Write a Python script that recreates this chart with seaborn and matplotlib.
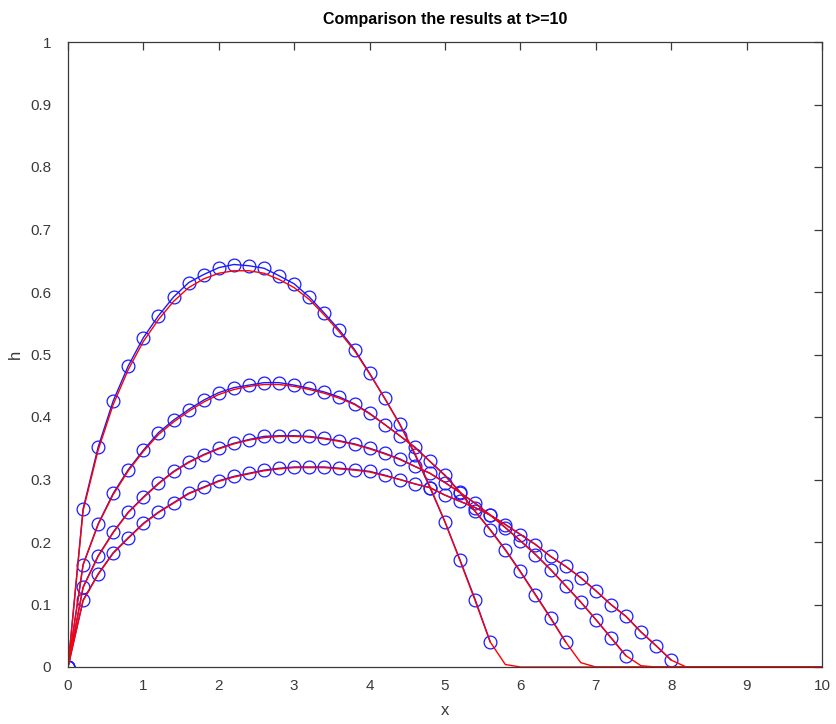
import numpy as np
import pandas as pd
import matplotlib
matplotlib.use("Agg")
import matplotlib.pyplot as plt
import seaborn as sns

# ---- data ----
x_grid_step = 0.2

num1 = [0, 0.253, 0.352, 0.426, 0.482, 0.527, 0.562, 0.592, 0.615, 0.628, 0.639,
        0.644, 0.642, 0.638, 0.626, 0.613, 0.592, 0.566, 0.539, 0.508, 0.470,
        0.430, 0.389, 0.340, 0.287, 0.232, 0.171, 0.108, 0.040]
num2 = [0, 0.164, 0.229, 0.278, 0.316, 0.347, 0.375, 0.395, 0.412, 0.427, 0.439,
        0.447, 0.451, 0.455, 0.455, 0.451, 0.446, 0.440, 0.432, 0.421, 0.406,
        0.388, 0.370, 0.352, 0.329, 0.307, 0.280, 0.249, 0.220, 0.188, 0.153,
        0.116, 0.079, 0.040]
num3 = [0, 0.128, 0.178, 0.216, 0.248, 0.272, 0.294, 0.313, 0.328, 0.340, 0.350,
        0.358, 0.364, 0.369, 0.370, 0.370, 0.369, 0.366, 0.362, 0.357, 0.350,
        0.342, 0.333, 0.321, 0.310, 0.295, 0.279, 0.262, 0.243, 0.223, 0.202,
        0.180, 0.156, 0.130, 0.104, 0.076, 0.047, 0.018]
num4 = [0, 0.107, 0.149, 0.183, 0.207, 0.230, 0.248, 0.263, 0.278, 0.288, 0.298,
        0.305, 0.310, 0.315, 0.318, 0.320, 0.320, 0.320, 0.318, 0.316, 0.313,
        0.307, 0.300, 0.293, 0.287, 0.275, 0.265, 0.255, 0.243, 0.228, 0.212,
        0.196, 0.177, 0.161, 0.143, 0.122, 0.100, 0.081, 0.056, 0.034, 0.011]

exact1 = [0, 0.250, 0.347, 0.420, 0.476, 0.521, 0.556, 0.585, 0.607, 0.621, 0.630,
          0.634, 0.634, 0.630, 0.620, 0.607, 0.588, 0.563, 0.536, 0.506, 0.469,
          0.430, 0.388, 0.342, 0.289, 0.232, 0.170, 0.106, 0.040, 0.004]
exact2 = [0, 0.163, 0.228, 0.276, 0.314, 0.345, 0.372, 0.392, 0.409, 0.424, 0.436,
          0.444, 0.449, 0.452, 0.452, 0.449, 0.444, 0.438, 0.430, 0.420, 0.405,
          0.388, 0.370, 0.351, 0.329, 0.306, 0.279, 0.249, 0.219, 0.187, 0.152,
          0.115, 0.078, 0.040, 0.007]
exact3 = [0, 0.127, 0.177, 0.215, 0.247, 0.271, 0.293, 0.312, 0.327, 0.339, 0.349,
          0.357, 0.363, 0.367, 0.369, 0.369, 0.368, 0.365, 0.361, 0.356, 0.349,
          0.341, 0.332, 0.321, 0.310, 0.295, 0.279, 0.262, 0.243, 0.223, 0.202,
          0.180, 0.156, 0.130, 0.104, 0.076, 0.047, 0.018, 0.002]
exact4 = [0, 0.106, 0.148, 0.182, 0.206, 0.229, 0.247, 0.262, 0.277, 0.287, 0.297,
          0.304, 0.309, 0.314, 0.317, 0.319, 0.319, 0.319, 0.317, 0.315, 0.312,
          0.306, 0.300, 0.293, 0.287, 0.275, 0.265, 0.255, 0.243, 0.228, 0.212,
          0.196, 0.177, 0.161, 0.143, 0.122, 0.100, 0.081, 0.056, 0.034, 0.011]

x_max = 10
x_ticks = list(range(0, 11))
y_ticks = [0, 0.1, 0.2, 0.3, 0.4, 0.5, 0.6, 0.7, 0.8, 0.9, 1]
y_tick_labels = ["0", "0.1", "0.2", "0.3", "0.4", "0.5", "0.6", "0.7", "0.8", "0.9", "1"]
title = "Comparison the results at t>=10"

# ---- build tables ----
n_full = int(round(x_max / x_grid_step)) + 1
x_full = np.round(np.arange(n_full) * x_grid_step, 10)

num_rows = []
for k, s in enumerate([num1, num2, num3, num4]):
    for i, v in enumerate(s):
        num_rows.append({"series": k, "x": x_full[i], "h": v})
num_df = pd.DataFrame(num_rows)

ex_rows = []
for k, s in enumerate([exact1, exact2, exact3, exact4]):
    padded = list(s) + [0.0] * (n_full - len(s))
    for i, v in enumerate(padded):
        ex_rows.append({"series": k, "x": x_full[i], "h": v})
ex_df = pd.DataFrame(ex_rows)

# ---- plot ----
sns.set_style("white")
plt.rcParams["font.family"] = ["Liberation Sans", "DejaVu Sans"]

fig = plt.figure(figsize=(8.37, 7.24), dpi=100)
ax = fig.add_axes([68 / 837, 1 - 667 / 724, (822 - 68) / 837, (667 - 42) / 724])

for k in range(4):
    d = num_df[num_df.series == k]
    sns.lineplot(data=d, x="x", y="h", ax=ax, color="#1a1aff", lw=1.0,
                 marker="o", markersize=9.2, markerfacecolor="none",
                 markeredgecolor="#1a1aff", markeredgewidth=0.9,
                 estimator=None, sort=False, legend=False)
for k in range(4):
    d = ex_df[ex_df.series == k]
    sns.lineplot(data=d, x="x", y="h", ax=ax, color="#ff0000", lw=1.0,
                 estimator=None, sort=False, legend=False)

ax.set_xlim(0, x_max)
ax.set_ylim(0, 1)
ax.set_xticks(x_ticks)
ax.set_xticklabels([str(t) for t in x_ticks])
ax.set_yticks(y_ticks)
ax.set_yticklabels(y_tick_labels)

edge = "#3a3a3a"
for sp in ax.spines.values():
    sp.set_visible(True)
    sp.set_color(edge)
    sp.set_linewidth(0.9)
ax.tick_params(direction="in", length=6, width=0.9, colors=edge,
               top=True, right=True, labelsize=11)
ax.tick_params(axis="x", pad=9)
ax.tick_params(axis="y", pad=12)
ax.set_xlabel("x", fontsize=12, color=edge, labelpad=7)
ax.set_ylabel("h", fontsize=12, color=edge, labelpad=5)
ax.set_title(title, fontsize=11.5, fontweight="bold", color="black", pad=13)
ax.grid(False)

fig.savefig("out.png", dpi=100, facecolor="white")
